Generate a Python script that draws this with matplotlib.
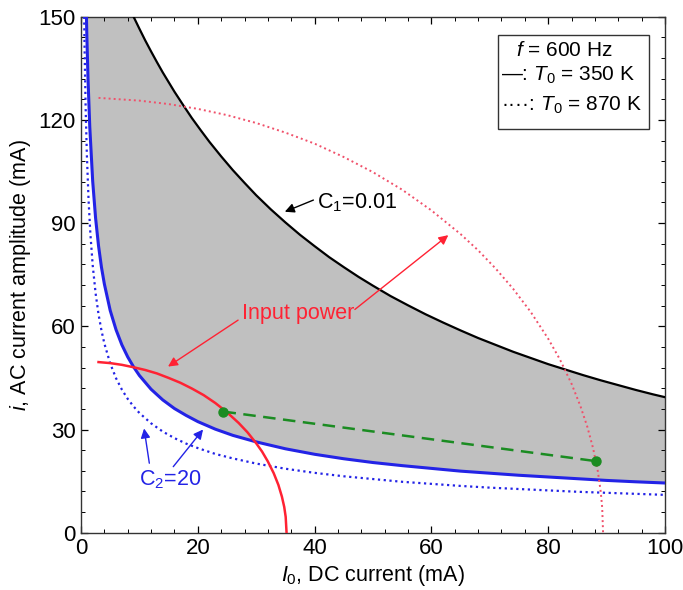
import matplotlib
matplotlib.use("Agg")
import matplotlib.pyplot as plt
from matplotlib.patches import Rectangle
from matplotlib.ticker import MultipleLocator

plt.rcParams['font.family'] = ['Liberation Sans', 'DejaVu Sans']
plt.rcParams['mathtext.fontset'] = 'custom'
plt.rcParams['mathtext.rm'] = 'Liberation Sans'
plt.rcParams['mathtext.it'] = 'Liberation Sans:italic'

# C1 = 0.01 boundary (T0 = 350 K)
c1_x = [9.0, 10, 11, 12, 13, 14, 15, 16, 17.5, 19, 20.5, 22, 24, 26, 28, 30, 32.5, 35,
        37.5, 40, 42.5, 45, 47.5, 50, 53, 56, 59, 62, 65, 68, 71, 74, 77, 80, 83, 86,
        89, 92, 95, 98, 100]
c1_y = [150.0, 146.5, 143.1, 139.9, 136.8, 133.8, 131.0, 128.2, 124.3, 120.5, 117.0, 113.6,
        109.4, 105.4, 101.7, 98.1, 94.0, 90.2, 86.6, 83.3, 80.1, 77.2, 74.4, 71.8, 68.8,
        66.1, 63.5, 61.1, 58.8, 56.6, 54.6, 52.6, 50.8, 49.0, 47.4, 45.8, 44.3, 42.9,
        41.5, 40.2, 39.4]

# C2 = 20 boundary, T0 = 350 K (solid)
c2_x = [0.93, 1.0, 1.2, 1.5, 2.0, 2.5, 3.0, 3.5, 4.0, 5, 6, 7, 8, 9, 10, 12, 14, 16, 18,
        20, 23, 26, 30, 35, 40, 45, 50, 55, 60, 65, 70, 75, 80, 85, 90, 95, 100]
c2_y = [150.0, 144.5, 131.9, 118.0, 102.2, 91.4, 83.4, 77.2, 72.3, 64.6, 59.0, 54.6, 51.1,
        48.2, 45.7, 41.7, 38.6, 36.1, 34.1, 32.3, 30.1, 28.3, 26.4, 24.4, 22.8, 21.5,
        20.4, 19.5, 18.7, 17.9, 17.3, 16.7, 16.2, 15.7, 15.2, 14.8, 14.45]

# C2 = 20 boundary, T0 = 870 K (dotted)
c2h_x = [0.54, 0.6, 0.8, 1.0, 1.3, 1.6, 2.0, 2.5, 3.0, 3.5, 4.0, 5, 6, 7, 8, 9, 10, 12,
         14, 16, 18, 20, 23, 26, 30, 35, 40, 45, 50, 55, 60, 65, 70, 75, 80, 85, 90, 95, 100]
c2h_y = [150.0, 142.0, 123.0, 110.0, 96.5, 87.0, 77.8, 69.6, 63.5, 58.8, 55.0, 49.2, 44.9,
         41.6, 38.9, 36.7, 34.8, 31.8, 29.4, 27.5, 25.9, 24.6, 22.9, 21.6, 20.1, 18.6,
         17.4, 16.4, 15.6, 14.8, 14.2, 13.6, 13.1, 12.7, 12.3, 11.9, 11.6, 11.3, 11.0]

# constant input power, T0 = 350 K (solid)
p_x = [3, 5, 7, 9, 11, 13, 15, 17, 19, 21, 23, 25, 27, 28.5, 30, 31, 32, 33, 33.8,
       34.4, 34.8, 35.05, 35.2]
p_y = [49.6, 49.3, 48.8, 48.1, 47.3, 46.3, 45.0, 43.6, 41.9, 40.0, 37.7, 35.0, 31.9, 29.2,
       26.0, 23.6, 20.7, 17.3, 13.9, 10.5, 7.5, 4.6, 0.0]

# constant input power, T0 = 870 K (dotted)
ph_x = [3, 10, 15, 20, 25, 30, 35, 40, 45, 50, 55, 60, 65, 68, 71, 74, 77, 80, 82, 84,
        85.5, 86.7, 87.7, 88.5, 89.0, 89.25, 89.4]
ph_y = [126.4, 125.6, 124.6, 123.2, 121.4, 119.1, 116.3, 113.1, 109.2, 104.8, 99.7, 93.7,
        86.8, 82.1, 76.8, 70.9, 64.2, 56.4, 50.4, 43.3, 36.9, 30.8, 24.5, 17.9, 11.9, 7.3, 0.0]

# operating points
op_x = [24.4, 88.2]
op_y = [35.2, 20.8]

xticks = [0, 20, 40, 60, 80, 100]
yticks = [0, 30, 60, 90, 120, 150]

red = '#ff2233'
blue = '#2323e6'
green = '#1b8c22'

fig = plt.figure(figsize=(6.83, 5.90), dpi=100)
ax = fig.add_axes([0.1186, 0.0971, 0.855, 0.8746])

# shaded region between the two boundaries
poly_x = c2_x + c1_x[::-1]
poly_y = c2_y + c1_y[::-1]
ax.fill(poly_x, poly_y, color='#c0c0c0', lw=0, zorder=1)

ax.plot(c1_x, c1_y, color='black', lw=1.6, zorder=3)
ax.plot(c2_x, c2_y, color=blue, lw=2.2, zorder=3)
ax.plot(c2h_x, c2h_y, color=blue, lw=1.6, ls=(0, (1, 1.6)), zorder=3)
ax.plot(p_x, p_y, color=red, lw=1.8, zorder=4)
ax.plot(ph_x, ph_y, color='#f0506a', lw=1.4, ls=(0, (1, 1.6)), zorder=4)
ax.plot(op_x, op_y, color=green, lw=1.8, ls=(0, (5, 3)), marker='o', ms=6.5, zorder=5)

ax.set_xlim(0, 100)
ax.set_ylim(0, 150)
ax.set_xticks(xticks)
ax.set_yticks(yticks)
ax.xaxis.set_minor_locator(MultipleLocator(4))
ax.yaxis.set_minor_locator(MultipleLocator(6))
ax.tick_params(which='both', direction='in', top=True, right=True, labelsize=16)
ax.tick_params(which='major', length=5, width=0.9, pad=4)
ax.tick_params(which='minor', length=3, width=0.7)
for s in ax.spines.values():
    s.set_linewidth(1.0)
    s.set_color('#333333')

ax.set_xlabel(r'$\mathit{I}_{\mathit{0}}$, DC current (mA)', fontsize=15.5, labelpad=3)
ax.set_ylabel(r'$\mathit{i}$, AC current amplitude (mA)', fontsize=15.5, labelpad=4)

arrow_kw = dict(arrowstyle='-|>', lw=1.0, mutation_scale=14, shrinkA=0, shrinkB=0)

# C1 label
ax.text(40.4, 95.8, r'C$_{\mathit{1}}$=0.01', fontsize=15.5, ha='left', va='center', zorder=6)
ax.annotate('', xy=(34.9, 93.3), xytext=(39.8, 96.7),
            arrowprops=dict(color='black', **arrow_kw), zorder=6)

# C2 label
ax.text(15.2, 15.3, r'C$_2$=20', fontsize=15.5, color=blue, ha='center', va='center', zorder=6)
ax.annotate('', xy=(10.8, 30.3), xytext=(11.7, 20.2),
            arrowprops=dict(color=blue, **arrow_kw), zorder=6)
ax.annotate('', xy=(20.9, 30.0), xytext=(15.8, 19.2),
            arrowprops=dict(color=blue, **arrow_kw), zorder=6)

# input power label
ax.text(37.2, 63.8, 'Input power', fontsize=15.5, color=red, ha='center', va='center', zorder=6)
ax.annotate('', xy=(14.9, 48.3), xytext=(26.9, 61.8),
            arrowprops=dict(color=red, **arrow_kw), zorder=6)
ax.annotate('', xy=(62.9, 86.5), xytext=(46.9, 64.9),
            arrowprops=dict(color=red, **arrow_kw), zorder=6)

# key box
ax.add_patch(Rectangle((71.4, 117.3), 25.9, 27.4, fill=True, facecolor='white',
                       edgecolor='#333333', lw=1.0, zorder=6))
ax.text(82.8, 140.3, r'$\mathit{f}$ = 600 Hz', fontsize=15, ha='center', va='center', zorder=7)
ax.text(72.0, 133.0, r'—: $\mathit{T}_{\mathit{0}}$ = 350 K', fontsize=15, ha='left', va='center', zorder=7)
ax.text(72.0, 124.3, r'····: $\mathit{T}_{\mathit{0}}$ = 870 K', fontsize=15, ha='left', va='center', zorder=7)

fig.savefig('out.png', dpi=100)
